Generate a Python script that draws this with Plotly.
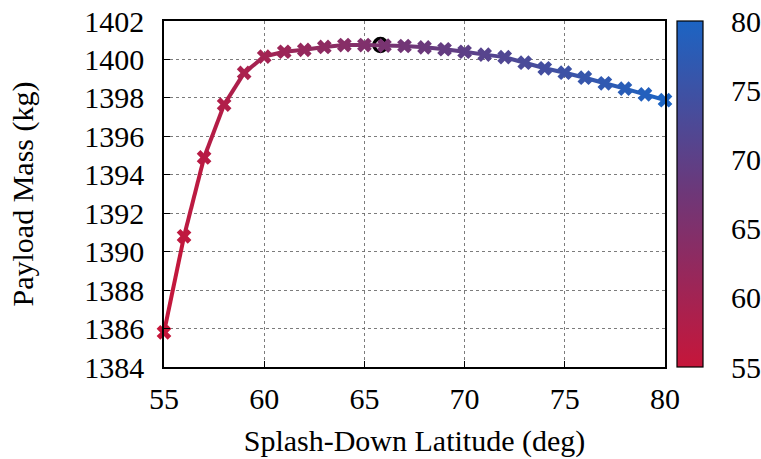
import plotly.graph_objects as go

latitude = [55, 56, 57, 58, 59, 60, 61, 62, 63, 64, 65, 66, 67, 68, 69, 70,
            71, 72, 73, 74, 75, 76, 77, 78, 79, 80]
payload = [1385.8, 1390.8, 1394.9, 1397.65, 1399.3, 1400.15, 1400.4, 1400.5,
           1400.65, 1400.75, 1400.75, 1400.72, 1400.7, 1400.63, 1400.53, 1400.4,
           1400.25, 1400.12, 1399.83, 1399.54, 1399.31, 1399.05, 1398.76,
           1398.48, 1398.18, 1397.88]
optimum_lat = [65.8]
optimum_mass = [1400.75]

x_ticks = [55, 60, 65, 70, 75, 80]
y_ticks = [1384, 1386, 1388, 1390, 1392, 1394, 1396, 1398, 1400, 1402]
cb_ticks = [55, 60, 65, 70, 75, 80]

stops = [(0.0, (198, 22, 58)), (0.5, (110, 55, 120)), (1.0, (28, 100, 195))]
cmin, cmax = 55, 80
colorscale = [[s, "rgb(%d,%d,%d)" % c] for s, c in stops]


def color_at(v):
    t = (v - cmin) / (cmax - cmin)
    t = min(max(t, 0), 1)
    for (s0, c0), (s1, c1) in zip(stops[:-1], stops[1:]):
        if s0 <= t <= s1:
            f = (t - s0) / (s1 - s0)
            c = [round(a + (b - a) * f) for a, b in zip(c0, c1)]
            return "rgb(%d,%d,%d)" % tuple(c)
    return "rgb(%d,%d,%d)" % stops[-1][1]


FONT = "Liberation Serif"
FS = 30
fig = go.Figure()

fig.add_trace(go.Scatter(
    x=optimum_lat, y=optimum_mass, mode="markers",
    marker=dict(symbol="circle-open", size=13, color="black", line=dict(width=3.5)),
    showlegend=False, hoverinfo="skip", cliponaxis=False))

for i in range(len(latitude) - 1):
    mid = 0.5 * (latitude[i] + latitude[i + 1])
    fig.add_trace(go.Scatter(
        x=latitude[i:i + 2], y=payload[i:i + 2], mode="lines",
        line=dict(color=color_at(mid), width=4),
        showlegend=False, hoverinfo="skip"))

fig.add_trace(go.Scatter(
    x=latitude, y=payload, mode="markers", cliponaxis=False,
    marker=dict(symbol="x", size=13, color=latitude, colorscale=colorscale,
                cmin=cmin, cmax=cmax, line=dict(width=0),
                colorbar=dict(
                    x=1.024, xanchor="left", xref="paper", xpad=0,
                    y=0.5, yanchor="middle", ypad=0, len=1, lenmode="fraction",
                    thickness=26, outlinewidth=1.2, outlinecolor="black",
                    tickvals=cb_ticks, ticks="outside", ticklen=22,
                    tickcolor="rgba(0,0,0,0)",
                    tickfont=dict(family=FONT, size=FS, color="black"))),
    showlegend=False))

axis_common = dict(
    showline=True, linecolor="black", linewidth=1.5, mirror=True,
    ticks="inside", ticklen=6, tickcolor="black",
    showgrid=True, gridcolor="rgba(110,110,110,0.9)", griddash="dot", gridwidth=1,
    zeroline=False,
    tickfont=dict(family=FONT, size=FS, color="black"),
)

fig.update_xaxes(**axis_common, range=[55, 80], tickvals=x_ticks,
                 title=dict(text="Splash-Down Latitude (deg)",
                            font=dict(family=FONT, size=FS, color="black"),
                            standoff=16),
                 ticklabelstandoff=4)
fig.update_yaxes(**axis_common, range=[1384, 1402], tickvals=y_ticks,
                 title=dict(text="Payload Mass (kg)",
                            font=dict(family=FONT, size=FS, color="black"),
                            standoff=42),
                 ticklabelstandoff=12)

fig.update_layout(
    width=761, height=459,
    margin=dict(l=164, r=96, t=21, b=92, autoexpand=False),
    paper_bgcolor="white", plot_bgcolor="white",
)

fig.write_html("out.html")
